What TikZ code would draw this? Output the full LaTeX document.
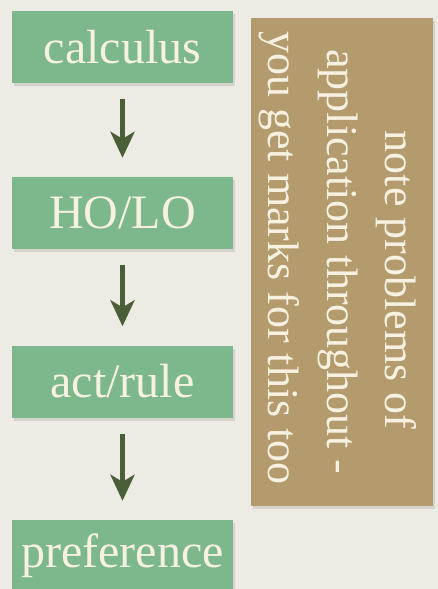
\documentclass[tikz,border=0pt]{standalone}
\usepackage{fontspec}
\setmainfont{Liberation Serif}
\usetikzlibrary{arrows.meta,shadows}
\definecolor{bgcol}{RGB}{236,235,228}
\definecolor{greenbox}{RGB}{124,184,140}
\definecolor{creamtext}{RGB}{246,241,224}
\definecolor{brownbox}{RGB}{180,155,110}
\definecolor{arrowcol}{RGB}{74,94,56}
\tikzset{
  stepbox/.style={fill=greenbox, minimum width=221pt, minimum height=72pt, inner sep=0pt,
    text=creamtext, font=\fontsize{48}{54}\selectfont,
    drop shadow={opacity=0.22, shadow xshift=2pt, shadow yshift=-3pt}},
  notebox/.style={fill=brownbox, minimum width=182pt, minimum height=488pt, inner sep=0pt,
    drop shadow={opacity=0.22, shadow xshift=2pt, shadow yshift=-3pt}},
  notetext/.style={text=creamtext, rotate=-90, align=center, font=\fontsize{44}{58.5}\selectfont, inner sep=0pt},
  flow/.style={draw=arrowcol, line width=5pt, shorten <=16pt, shorten >=19pt,
    -{Stealth[length=26pt, width=24pt, inset=7pt]}}
}
\begin{document}
\begin{tikzpicture}[x=1pt, y=-1pt]
\fill[bgcol] (0,0) rectangle (438,589);
\useasboundingbox (0,0) rectangle (438,589);
\clip (0,0) rectangle (438,589);
\node[stepbox] (calc) at (122.5,47) {calculus};
\node[stepbox] (holo) at (122.5,213) {HO/LO};
\node[stepbox] (act) at (122.5,381.5) {act/rule};
\node[stepbox] (pref) at (122.5,556) {preference};
\node[notebox] (note) at (342,262) {};
\node[notetext] (notet) at (338,262) {\hspace*{36pt}note problems of\\application throughout -\\you get marks for this too\hspace*{8pt}};
\draw[flow] (calc.south) -- (holo.north);
\draw[flow] (holo.south) -- (act.north);
\draw[flow] (act.south) -- (pref.north);
\end{tikzpicture}
\end{document}
